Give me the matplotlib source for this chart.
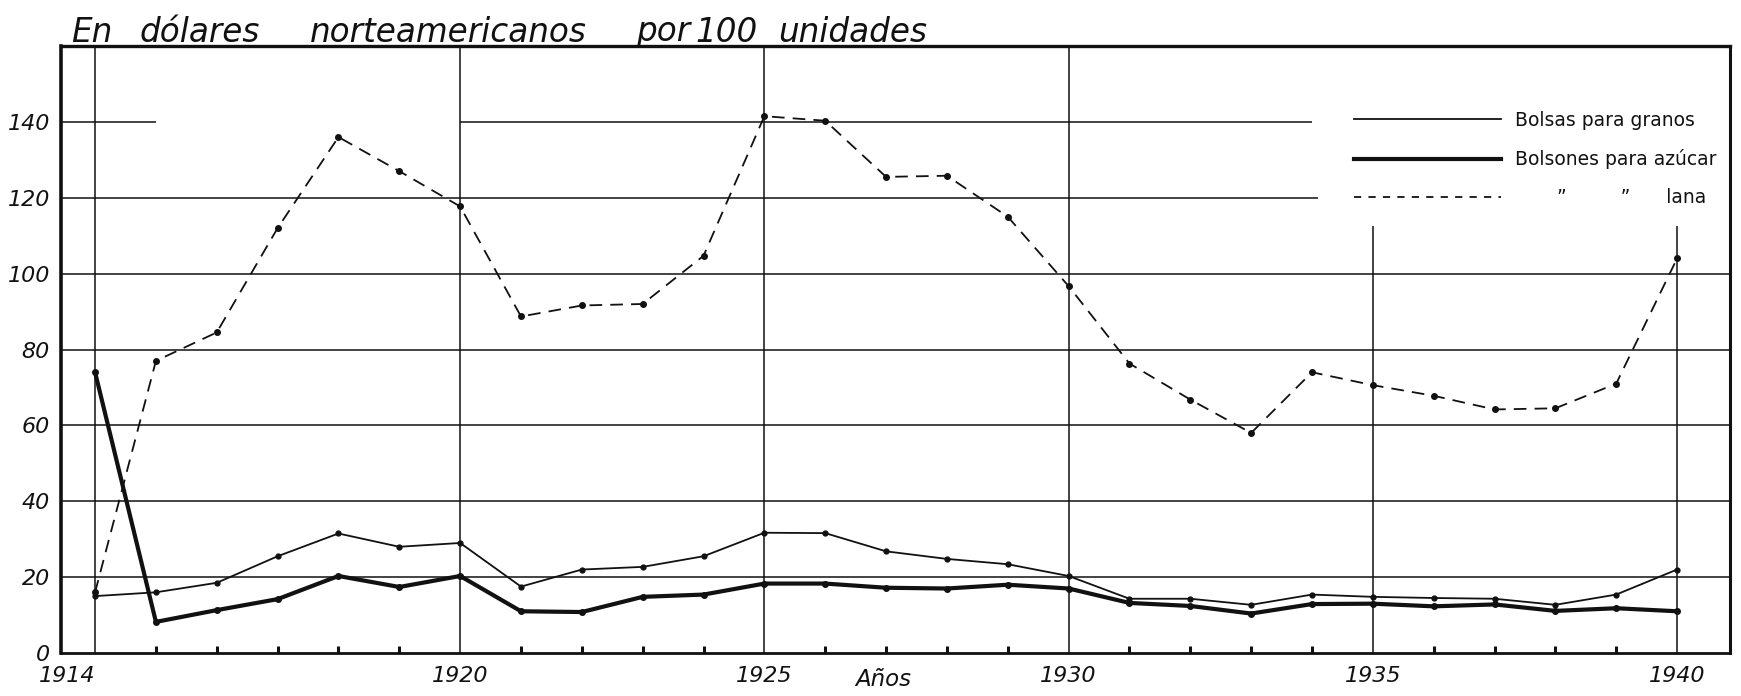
import matplotlib
matplotlib.use("Agg")
import matplotlib.pyplot as plt
from matplotlib.lines import Line2D

# Prices in US dollars per 100 units, 1914-1940
years = list(range(1914, 1941))
bolsas_granos = [15, 16, 18.5, 25.5, 31.5, 28, 29, 17.5, 22, 22.7, 25.5, 31.7, 31.6,
                 26.8, 24.8, 23.4, 20.3, 14.3, 14.3, 12.7, 15.4, 14.8, 14.5, 14.3,
                 12.7, 15.4, 22]
bolsones_azucar = [74, 8.2, 11.3, 14.2, 20.3, 17.4, 20.3, 11, 10.8, 14.8, 15.4, 18.3,
                   18.3, 17.2, 17, 18, 17, 13.2, 12.4, 10.4, 12.9, 13, 12.3, 12.8,
                   11.1, 11.8, 11]
bolsones_lana = [16, 77, 84.5, 112, 136, 127, 117.7, 88.7, 91.6, 92, 104.7, 141.5,
                 140.3, 125.5, 125.8, 115, 96.7, 76.3, 66.8, 58, 74, 70.6, 67.8,
                 64.2, 64.5, 71, 104]

labelled_years = [1914, 1920, 1925, 1930, 1935, 1940]
y_ticks = [0, 20, 40, 60, 80, 100, 120, 140]
labels = ["Bolsas para granos", "Bolsones para azúcar",
          "       \u201d         \u201d      lana"]

W, H = 1741, 696
fig = plt.figure(figsize=(W / 100, H / 100), dpi=100)
ax = fig.add_axes([61 / W, 43 / H, (1730 - 61) / W, (653 - 46) / H])
ax.set_xlim(1913.44, 1940.87)
ax.set_ylim(0, 160)

ink = "#111111"
grid_kw = dict(color=ink, linewidth=1.1, zorder=1)

# hand-ruled horizontal grid; upper lines stop short of the key
x0, x1 = ax.get_xlim()
ax.hlines(140, x0, 1915.0, **grid_kw)
ax.hlines(140, 1920, 1934.0, **grid_kw)
ax.hlines(120, x0, 1934.1, **grid_kw)
for v in [20, 40, 60, 80, 100]:
    ax.hlines(v, x0, x1, **grid_kw)

# vertical rules at the labelled years
for yr in labelled_years:
    top = 112.5 if yr >= 1935 else 160
    ax.vlines(yr, 0, top, **grid_kw)

# series
ax.plot(years, bolsas_granos, color=ink, lw=1.3, marker="o", ms=3.5, zorder=3)
ax.plot(years, bolsones_azucar, color=ink, lw=3.0, marker="o", ms=4, zorder=3,
        solid_capstyle="round")
ax.plot(years, bolsones_lana, color=ink, lw=1.3, ls=(0, (7, 4.5)), marker="o",
        ms=4, zorder=3)

# key
handles = [Line2D([], [], color=ink, lw=1.3),
           Line2D([], [], color=ink, lw=3.0),
           Line2D([], [], color=ink, lw=1.3, ls=(0, (4, 4)))]
leg = ax.legend(handles, labels, loc="upper left", bbox_to_anchor=(0.775, 0.893),
                frameon=False, fontsize=13.5, handlelength=7.8, handletextpad=0.75,
                labelspacing=1.02, borderpad=0, borderaxespad=0)
for t in leg.get_texts():
    t.set_color(ink)

# axes frame
for side in ["left", "top", "right", "bottom"]:
    ax.spines[side].set_color(ink)
ax.spines["left"].set_linewidth(2.6)
ax.spines["top"].set_linewidth(2.4)
ax.spines["right"].set_linewidth(2.2)
ax.spines["bottom"].set_linewidth(2.0)

# ticks
ax.set_xticks(labelled_years)
ax.set_xticklabels([str(y) for y in labelled_years], fontsize=16, style="italic",
                   color=ink)
ax.get_xticklabels()[0].set_horizontalalignment("right")
ax.set_xticks(years, minor=True)
ax.tick_params(axis="x", which="major", length=0, pad=9)
ax.tick_params(axis="x", which="minor", direction="in", length=5, width=2.2,
               color=ink)
ax.set_yticks(y_ticks)
ax.set_yticklabels([str(v) for v in y_ticks], fontsize=16, style="italic", color=ink)
ax.tick_params(axis="y", length=0, pad=8)

ax.text(1926.5, -7.0, "Años", fontsize=16.5, style="italic", color=ink,
        ha="left", va="center")

# heading, lettered word by word
words = [("En", 92), ("dólares", 200), ("norteamericanos", 448), ("por", 663),
         ("100", 727), ("unidades", 853)]
for w, px in words:
    fig.text(px / W, 1 - 32 / H, w, fontsize=23.5, style="italic", color=ink,
             ha="center", va="center")

fig.savefig("out.png", dpi=100, facecolor="white")
